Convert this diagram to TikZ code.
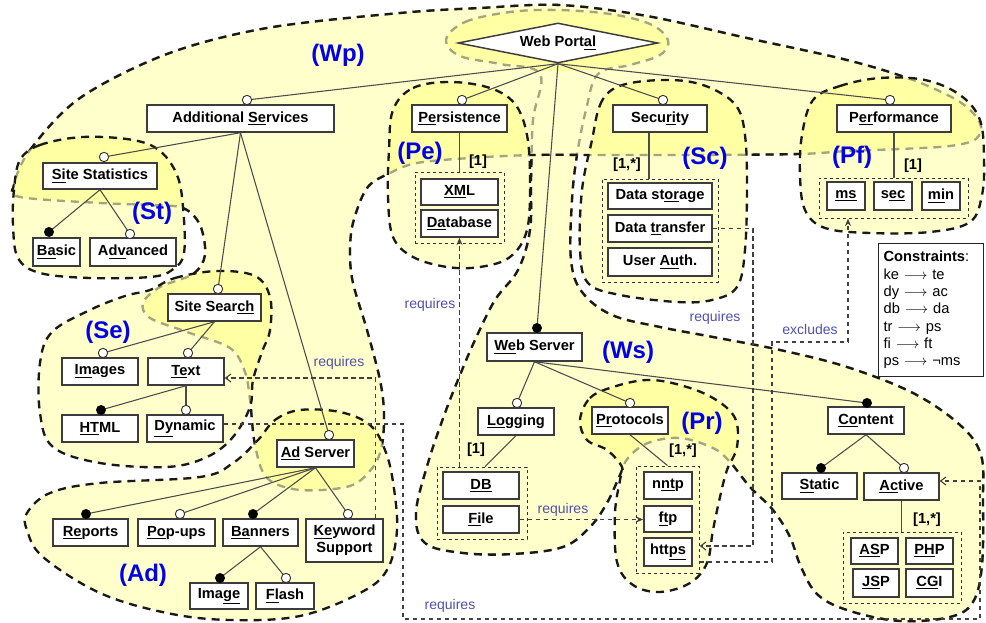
\documentclass[tikz,border=0pt]{standalone}
\usepackage{fontspec}
\setmainfont{Liberation Sans}
\usetikzlibrary{shapes.geometric,arrows.meta,calc}
\definecolor{regfill}{RGB}{255,255,0}
\definecolor{boxline}{RGB}{60,60,60}
\definecolor{reqcol}{RGB}{80,80,175}
\definecolor{lblue}{RGB}{0,0,235}
\definecolor{grayline}{RGB}{165,165,125}
\pgfdeclarelayer{bg}
\pgfdeclarelayer{lines}
\pgfsetlayers{bg,lines,main}
\newcommand\rgWs{plot[smooth cycle, tension=0.6] coordinates {(446,40) (465,22) (510,12) (557,10) (610,14) (650,24) (668,40) (660,55) (630,65) (598,74) (586,110) (577,155) (572,200) (571,260) (582,292) (612,315) (660,327) (713,337) (780,350) (847,367) (913,393) (960,425) (981,455) (983,500) (982,565) (973,602) (950,617) (900,621) (850,611) (818,595) (801,567) (790,537) (773,510) (750,487) (730,462) (713,448) (680,438) (648,443) (628,458) (620,475) (607,503) (590,527) (563,547) (513,554) (463,553) (425,543) (416,513) (428,463) (445,413) (460,375) (475,340) (495,300) (518,270) (530,230) (531,180) (533,120) (540,74) (500,64) (460,56)}}
\newcommand\rgWp{plot[smooth cycle, tension=0.55] coordinates {(14,185) (30,150) (80,98) (167,54) (267,28) (400,13) (480,8) (560,5) (647,16) (747,38) (847,60) (913,80) (960,102) (980,123) (976,139) (950,146) (900,149) (847,151) (800,154) (700,155) (600,155) (533,155) (470,158) (417,163) (390,173) (367,188) (353,223) (350,253) (353,283) (367,330) (380,380) (384,413) (382,445) (373,467) (350,486) (300,490) (267,478) (255,445) (250,400) (245,372) (230,348) (187,332) (150,318) (143,303) (160,287) (193,274) (205,255) (200,225) (183,208) (150,205) (100,203) (20,197)}}
\newcommand\rgSt{plot[smooth cycle, tension=0.6] coordinates {(20,160) (40,145) (83,137) (133,140) (160,151) (177,175) (183,207) (184,253) (172,270) (150,277) (90,278) (40,273) (18,258) (13,225) (14,190)}}
\newcommand\rgPe{plot[smooth cycle, tension=0.6] coordinates {(393,110) (413,88) (450,82) (490,88) (515,104) (527,135) (530,180) (527,230) (510,257) (480,267) (447,267) (413,257) (393,237) (388,197) (389,150)}}
\newcommand\rgSc{plot[smooth cycle, tension=0.6] coordinates {(592,140) (600,105) (615,88) (645,81) (685,81) (715,90) (737,107) (745,135) (747,185) (745,250) (737,287) (712,300) (677,302) (620,295) (588,283) (580,250) (582,190)}}
\newcommand\rgPf{plot[smooth cycle, tension=0.6] coordinates {(813,100) (840,86) (880,78) (925,80) (960,95) (980,120) (984,160) (982,195) (970,222) (930,232) (870,233) (825,228) (805,210) (800,175) (802,135)}}
\newcommand\rgSe{plot[smooth cycle, tension=0.6] coordinates {(150,290) (175,278) (217,271) (255,276) (270,297) (270,330) (262,352) (253,380) (250,407) (233,437) (207,457) (167,467) (100,463) (53,447) (40,413) (40,363) (52,332) (90,310) (125,296)}}
\newcommand\rgAd{plot[smooth cycle, tension=0.6] coordinates {(258,440) (275,420) (300,410) (340,412) (370,425) (385,450) (393,482) (397,530) (387,570) (360,593) (300,616) (230,620) (167,613) (100,593) (43,557) (27,530) (27,513) (50,493) (100,483) (200,477) (233,463)}}
\newcommand\rgPr{plot[smooth cycle, tension=0.6] coordinates {(580,420) (590,398) (613,387) (647,380) (680,385) (713,398) (735,418) (737,447) (727,470) (720,497) (713,530) (707,563) (690,583) (660,592) (633,585) (617,562) (615,513) (620,480) (622,467) (607,450) (587,440)}}
\newcommand\fbx[6]{\node[fbox, minimum width=#4*0.75pt, minimum height=#5*0.75pt] (#1) at (#2,#3) {#6};}
\newcommand\mko[3]{\node[optmark] (#1) at (#2,#3) {};}
\newcommand\mkm[3]{\node[mandmark] (#1) at (#2,#3) {};}
\newcommand\impl{\ $\longrightarrow$\ }
\begin{document}
\begin{tikzpicture}[x=0.75pt,y=-0.75pt,
  regfillst/.style={fill=regfill, fill opacity=0.2},
  regline/.style={line width=1.75pt, dash pattern=on 6pt off 4.5pt, draw=black!90},
  reglinegray/.style={regline, draw=grayline},
  fbox/.style={draw=boxline, line width=1.1pt, fill=white, inner sep=0pt, font=\bfseries\fontsize{11}{12.5}\selectfont, align=center},
  grpbox/.style={draw=black!80, dash pattern=on 2.5pt off 2pt, line width=0.7pt, inner sep=0pt},
  treeline/.style={draw=black!70, line width=0.8pt},
  optmark/.style={circle, draw=black!80, fill=white, line width=0.7pt, inner sep=0pt, minimum size=7pt},
  mandmark/.style={circle, draw=black, fill=black, inner sep=0pt, minimum size=7pt},
  cardlbl/.style={font=\bfseries\fontsize{11}{12}\selectfont, inner sep=0pt},
  rlabel/.style={text=lblue, font=\bfseries\fontsize{18}{20}\selectfont, inner sep=0pt},
  reqline/.style={draw=black!75, line width=0.8pt, dash pattern=on 3.5pt off 2.5pt},
  reqtext/.style={text=reqcol, font=\fontsize{10.5}{12}\selectfont, inner sep=0pt},
  reqarrow/.style={-{Stealth[length=5.5pt,width=4.5pt]}},
  reqbarb/.style={-{Straight Barb[length=4pt,width=6pt]}},
]
\useasboundingbox (0,0) rectangle (986,623);

\begin{pgfonlayer}{bg}
\fill[white] (0,0) rectangle (986,623);
% fills
\begin{scope}[even odd rule]
  \clip (-20,-20) rectangle (1010,650) \rgWp;
  \fill[regfillst] \rgWs;
\end{scope}
\begin{scope}
  \clip \rgWs;
  \fill[regfillst] (557,40) ellipse [x radius=113, y radius=31];
\end{scope}
\fill[regfillst] \rgWp;
\fill[regfillst] \rgSt;
\fill[regfillst] \rgPe;
\fill[regfillst] \rgSc;
\fill[regfillst] \rgPf;
\fill[regfillst] \rgSe;
\fill[regfillst] \rgAd;
\fill[regfillst] \rgPr;
% outlines
\draw[reglinegray] \rgWs;
\begin{scope}[even odd rule]
  \clip (-20,-20) rectangle (1010,650) \rgWp \rgPr;
  \draw[regline] \rgWs;
\end{scope}
\draw[reglinegray] \rgWp;
\begin{scope}[even odd rule]
  \clip (-20,-20) rectangle (1010,650) \rgSt \rgPe \rgSc \rgPf \rgSe \rgAd;
  \draw[regline] \rgWp;
\end{scope}
\draw[regline] \rgSt;
\draw[regline] \rgPe;
\draw[regline] \rgSc;
\draw[regline] \rgPf;
\draw[regline] \rgSe;
\draw[regline] \rgAd;
\draw[regline] \rgPr;
\end{pgfonlayer}

% root
\node[diamond, draw=boxline, fill=white, line width=1.1pt, minimum width=150pt, minimum height=30pt, inner sep=0pt, aspect=5, font=\bfseries\fontsize{11}{12.5}\selectfont] (wp) at (558,43) {Web Port\underline{al}};

% boxes
\fbx{addsvc}{240.5}{118.5}{187}{27}{Additional \underline{Se}rvices}
\fbx{pers}{459.5}{118.5}{95}{27}{\underline{Pe}rsistence}
\fbx{sec}{660}{118.5}{94}{27}{Secu\underline{ri}ty}
\fbx{perf}{894}{118.5}{114}{27}{P\underline{er}formance}
\fbx{sitestat}{100}{176}{114}{26}{\underline{Si}te Statistics}
\fbx{basic}{56.5}{252}{47}{28}{\underline{Ba}sic}
\fbx{adv}{133}{252}{86}{28}{A\underline{dv}anced}
\fbx{xml}{459.5}{192}{77}{26}{\underline{XM}L}
\fbx{dbase}{459.5}{223.5}{77}{27}{\underline{Da}tabase}
\fbx{dstor}{660}{196}{104}{26}{Data st\underline{or}age}
\fbx{dtrans}{660}{228.5}{104}{27}{Data \underline{tr}ansfer}
\fbx{uauth}{660}{262}{104}{28}{User \underline{Au}th.}
\fbx{ms}{846}{196}{38}{28}{\underline{ms}}
\fbx{secs}{893}{196}{38}{28}{s\underline{ec}}
\fbx{min}{941}{196}{38}{28}{\underline{mi}n}
\fbx{sitesearch}{214.5}{307.5}{93}{27}{Site Sear\underline{ch}}
\fbx{images}{100}{371.5}{76}{27}{\underline{Im}ages}
\fbx{text}{186}{371.5}{76}{27}{\underline{Te}xt}
\fbx{html}{100}{428.5}{76}{27}{\underline{HT}ML}
\fbx{dynamic}{185}{428.5}{76}{27}{\underline{Dy}namic}
\fbx{adserver}{315.5}{453.5}{77}{27}{\underline{Ad} Server}
\fbx{reports}{90.5}{532.5}{75}{27}{\underline{Re}ports}
\fbx{popups}{176.5}{532.5}{77}{27}{\underline{Po}p-ups}
\fbx{banners}{260.5}{532.5}{75}{27}{\underline{Ba}nners}
\fbx{keyword}{344.5}{540.5}{77}{43}{\underline{Ke}yword\\Support}
\fbx{image}{219}{596}{58}{26}{Ima\underline{ge}}
\fbx{flash}{285}{596}{58}{26}{\underline{Fl}ash}
\fbx{webserver}{534.5}{347}{95}{28}{\underline{We}b Server}
\fbx{logging}{516}{421.5}{76}{27}{\underline{Lo}gging}
\fbx{protocols}{630}{420.5}{76}{27}{\underline{Pr}otocols}
\fbx{content}{866}{420.5}{76}{27}{\underline{Co}ntent}
\fbx{db}{481}{485.5}{76}{27}{\underline{DB}}
\fbx{file}{481}{519.5}{76}{27}{\underline{Fi}le}
\fbx{nntp}{668}{485.5}{48}{27}{n\underline{nt}p}
\fbx{ftp}{668}{519}{48}{26}{\underline{ft}p}
\fbx{https}{668}{552}{48}{28}{htt\underline{ps}}
\fbx{static}{819.5}{486}{75}{26}{\underline{St}atic}
\fbx{active}{901.5}{486.5}{75}{27}{\underline{Ac}tive}
\fbx{asp}{874.5}{551}{47}{26}{\underline{AS}P}
\fbx{php}{929.5}{551}{47}{26}{\underline{PH}P}
\fbx{jsp}{876}{583}{46}{28}{\underline{JS}P}
\fbx{cgi}{929.5}{583}{47}{28}{\underline{CG}I}

% groups
\node[grpbox, minimum width=89*0.75pt, minimum height=71*0.75pt] (pegrp) at (459.5,207.5) {};
\node[grpbox, minimum width=116*0.75pt, minimum height=103*0.75pt] (scgrp) at (660,230.5) {};
\node[grpbox, minimum width=149*0.75pt, minimum height=40*0.75pt] (pfgrp) at (893.5,198) {};
\node[grpbox, minimum width=90*0.75pt, minimum height=72*0.75pt] (lggrp) at (482,503) {};
\node[grpbox, minimum width=63*0.75pt, minimum height=107*0.75pt] (prgrp) at (667.5,519.5) {};
\node[grpbox, minimum width=118*0.75pt, minimum height=71*0.75pt] (acgrp) at (902,567.5) {};

% markers
\mko{m-addsvc}{247}{100}
\mko{m-pers}{462}{100}
\mko{m-sec}{663}{100}
\mko{m-perf}{890}{100}
\mkm{m-ws}{537}{328}
\mko{m-sitestat}{104}{157}
\mko{m-sitesearch}{218}{289}
\mko{m-adserver}{329}{435}
\mkm{m-basic}{49}{232}
\mko{m-adv}{130}{234}
\mko{m-images}{103}{353}
\mko{m-text}{188}{353}
\mkm{m-html}{101}{410}
\mko{m-dyn}{186}{410}
\mkm{m-reports}{86}{514}
\mko{m-popups}{180}{514}
\mkm{m-banners}{253}{514}
\mko{m-keyword}{348}{514}
\mkm{m-image}{220}{578}
\mko{m-flash}{286}{578}
\mko{m-logging}{517}{403}
\mko{m-protocols}{630}{403}
\mkm{m-content}{867}{403}
\mkm{m-static}{821}{468}
\mko{m-active}{904}{468}

\begin{pgfonlayer}{lines}
\foreach \c in {m-addsvc,m-pers,m-sec,m-perf,m-ws} \draw[treeline] (wp.south) -- (\c.center);
\foreach \c in {m-sitestat,m-sitesearch,m-adserver} \draw[treeline] (addsvc.south) -- (\c.center);
\foreach \c in {m-basic,m-adv} \draw[treeline] (sitestat.south) -- (\c.center);
\foreach \c in {m-images,m-text} \draw[treeline] (sitesearch.south) -- (\c.center);
\foreach \c in {m-html,m-dyn} \draw[treeline] (text.south) -- (\c.center);
\foreach \c in {m-reports,m-popups,m-banners,m-keyword} \draw[treeline] (adserver.south) -- (\c.center);
\foreach \c in {m-image,m-flash} \draw[treeline] (banners.south) -- (\c.center);
\foreach \c in {m-logging,m-protocols,m-content} \draw[treeline] (webserver.south) -- (\c.center);
\foreach \c in {m-static,m-active} \draw[treeline] (content.south) -- (\c.center);
\draw[treeline] (pers.south) -- (pegrp.north);
\draw[treeline] ($(sec.south)+(-11,0)$) -- ($(scgrp.north)+(-11,0)$);
\draw[treeline] (perf.south) -- (perf.south |- pfgrp.north);
\draw[treeline] (logging.south) -- ($(lggrp.north)+(3,0)$);
\draw[treeline] (protocols.south) -- (prgrp.north);
\draw[treeline] (active.south) -- (active.south |- acgrp.north);

% requires / excludes
\draw[reqline, reqarrow] (file.east) -- (ftp.west |- file.east);
\draw[reqline, reqarrow] (dbase.south |- lggrp.north) -- (dbase.south);
\draw[reqline, reqbarb] ($(keyword.north east)+(-8,0)$) |- ($(text.east)+(0,6.5)$);
\draw[reqline, reqbarb] ($(dynamic.east)+(0,-4.5)$) -- (403,424) -- (403,619) -- (980,619) -- (980,481) -- ($(active.east)+(0,-5.5)$);
\draw[reqline, reqbarb] (dtrans.east) -- (753,228.5) -- (753,546) -- ($(https.east)+(7,-6)$);
\draw[reqline, reqarrow] ($(https.east)+(7,10)$) -- (772,562) -- (772,342) -- (848,342) -- ($(ms.south)+(2,8)$);
\end{pgfonlayer}

% cardinalities
\node[cardlbl] (c-pe) at (478,162) {[1]};
\node[cardlbl] (c-sc) at (627,165) {[1,*]};
\node[cardlbl] (c-pf) at (913,166) {[1]};
\node[cardlbl] (c-lg) at (476,450) {[1]};
\node[cardlbl] (c-pr) at (683,451) {[1,*]};
\node[cardlbl] (c-ac) at (927,520) {[1,*]};

% region labels
\node[rlabel] (l-wp) at (338,55) {(Wp)};
\node[rlabel] (l-st) at (152,213) {(St)};
\node[rlabel] (l-pe) at (420,153) {(Pe)};
\node[rlabel] (l-sc) at (705,158) {(Sc)};
\node[rlabel] (l-pf) at (852,157) {(Pf)};
\node[rlabel] (l-se) at (108,332) {(Se)};
\node[rlabel] (l-ad) at (143,575) {(Ad)};
\node[rlabel] (l-ws) at (628,352) {(Ws)};
\node[rlabel] (l-pr) at (702,423) {(Pr)};

% constraint labels
\node[reqtext] (r-db) at (430,305) {requires};
\node[reqtext] (r-fi) at (563,510) {requires};
\node[reqtext] (r-ke) at (339,363) {requires};
\node[reqtext] (r-dy) at (450,606) {requires};
\node[reqtext] (r-tr) at (715,318) {requires};
\node[reqtext] (r-ps) at (810,329) {excludes};

% constraints box
\node[draw=black!85, line width=0.9pt, fill=white, anchor=north west, minimum width=105*0.75pt, minimum height=133*0.75pt, text width=95*0.75pt, align=left, inner sep=3pt, font=\fontsize{11}{13}\selectfont] (cons) at (878,243) {\textbf{Constraints}:\\ke\impl te\\dy\impl ac\\db\impl da\\tr\impl ps\\f{}i\impl ft\\ps\impl ¬ms};
\end{tikzpicture}
\end{document}
